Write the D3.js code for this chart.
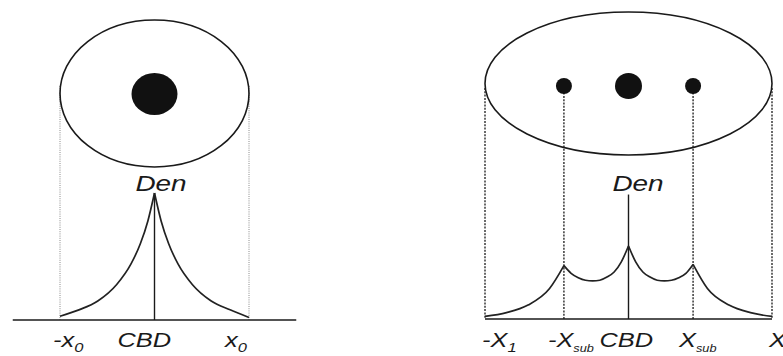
<!DOCTYPE html>
<html>
  <head>
    <title>Monocentric vs polycentric density</title>
    <script src="https://cdn.jsdelivr.net/npm/d3@7"></script>
    <style type="text/css">
      body {
        margin: 0;
        background: #fff;
        overflow: hidden;
      }
      text {
        font-family: "Liberation Sans", Arial, Helvetica, sans-serif;
        font-style: italic;
        fill: #1a1a1a;
      }
      .outline {
        fill: none;
        stroke: #1a1a1a;
        stroke-width: 1.6px;
      }
      .dot {
        fill: #111;
      }
      .density {
        fill: none;
        stroke: #222;
        stroke-width: 1.7px;
      }
      .axis-line {
        stroke: #1a1a1a;
        stroke-width: 1.5px;
      }
      .cbd-line {
        stroke: #1a1a1a;
        stroke-width: 1.4px;
      }
      .guide-light {
        stroke: #8a8a8a;
        stroke-width: 1px;
        stroke-dasharray: 1,1.2;
      }
      .guide-dark {
        stroke: #1a1a1a;
        stroke-width: 1.3px;
        stroke-dasharray: 2,1.3;
      }
    </style>
  </head>
<body>
  <div id="chart"></div>
  <script type="text/javascript">
    // distance from CBD in units of the city edge, density relative to left peak
    var monoDist = [-1, -0.8, -0.6, -0.4, -0.25, -0.15, -0.07, 0, 0.07, 0.15, 0.25, 0.4, 0.6, 0.8, 1];
    var monoDen  = [0.03, 0.08, 0.15, 0.28, 0.44, 0.6, 0.78, 1, 0.78, 0.6, 0.44, 0.28, 0.15, 0.08, 0.02];
    var monoCusps = [0];
    var monoCentres = [0];

    var polyDist = [-1, -0.85, -0.7, -0.55, -0.45, -0.4, -0.35, -0.3, -0.25, -0.2, -0.15, -0.1, -0.05, 0,
                    0.05, 0.1, 0.15, 0.2, 0.25, 0.3, 0.35, 0.4, 0.45, 0.55, 0.7, 0.85, 1];
    var polyDen  = [0.02, 0.05, 0.11, 0.24, 0.42, 0.36, 0.325, 0.305, 0.3, 0.305, 0.33, 0.37, 0.45, 0.575,
                    0.45, 0.37, 0.33, 0.305, 0.3, 0.305, 0.325, 0.36, 0.43, 0.24, 0.11, 0.05, 0.02];
    var polyCusps = [-0.45, 0, 0.45];
    var polyCentres = [-0.45, 0, 0.45];

    var monoLabels = [
      {at: -1, main: "-x", sub: "0"},
      {at: 0, main: "CBD", sub: ""},
      {at: 1, main: "x", sub: "0"}
    ];
    var polyLabels = [
      {at: -1, main: "-X", sub: "1"},
      {at: -0.45, main: "-X", sub: "sub"},
      {at: 0, main: "CBD", sub: ""},
      {at: 0.45, main: "X", sub: "sub"},
      {at: 1, main: "X", sub: ""}
    ];

    var width = 783, height = 356;
    var svg = d3.select("#chart").append("svg")
      .attr("width", width)
      .attr("height", height);

    var stretch = 1.27;

    var y = d3.scaleLinear().domain([0, 1]).range([0, -127]);

    function drawPanel(cfg) {
      var x = d3.scaleLinear().domain([-1, 1]).range(cfg.xRange);
      var g = svg.append("g").attr("transform", "translate(0," + cfg.base + ")");
      var cx = x(0), rx = x(1) - x(0);

      // city outline
      svg.append("ellipse")
        .attr("class", "outline")
        .attr("cx", cx).attr("cy", cfg.cy)
        .attr("rx", rx).attr("ry", cfg.ry);

      // dotted guides from outline edges
      g.selectAll(".edge").data([-1, 1]).enter()
        .append("line")
        .attr("class", cfg.guide)
        .attr("x1", x).attr("x2", x)
        .attr("y1", cfg.edgeTop - cfg.base).attr("y2", 0);

      // guides from sub-centres
      g.selectAll(".subguide").data(cfg.centres.filter(function (c) { return c !== 0; })).enter()
        .append("line")
        .attr("class", cfg.guide)
        .attr("x1", x).attr("x2", x)
        .attr("y1", cfg.dotY - cfg.base).attr("y2", 0);

      // centres
      svg.selectAll(null).data(cfg.centres).enter()
        .append("ellipse")
        .attr("class", "dot")
        .attr("cx", x)
        .attr("cy", cfg.dotY)
        .attr("rx", function (c) { return c === 0 ? cfg.mainR[0] : cfg.subR; })
        .attr("ry", function (c) { return c === 0 ? cfg.mainR[1] : cfg.subR; });

      // base line
      g.append("line")
        .attr("class", "axis-line")
        .attr("x1", x(-cfg.baseExt)).attr("x2", x(cfg.baseExt))
        .attr("y1", 0).attr("y2", 0);

      // CBD line
      g.append("line")
        .attr("class", "cbd-line")
        .attr("x1", x(0)).attr("x2", x(0))
        .attr("y1", y(cfg.cbdTop)).attr("y2", 0);

      // density curve, drawn piecewise so the centres stay sharp
      var pts = cfg.dist.map(function (d, i) { return [d, cfg.den[i]]; });
      var breaks = [-1].concat(cfg.cusps).concat([1]);
      var line = d3.line()
        .x(function (p) { return x(p[0]); })
        .y(function (p) { return y(p[1]); })
        .curve(d3.curveMonotoneX);
      for (var i = 0; i < breaks.length - 1; i++) {
        var seg = pts.filter(function (p) { return p[0] >= breaks[i] && p[0] <= breaks[i + 1]; });
        g.append("path").attr("class", "density").attr("d", line(seg));
      }

      // Den label
      g.append("text")
        .attr("transform", "translate(" + (x(0) + cfg.denDx) + "," + (191 - cfg.base) + ") scale(" + stretch + ",1)")
        .attr("text-anchor", "middle")
        .style("font-size", "22px")
        .text("Den");

      // axis labels
      var lab = g.selectAll(".lab").data(cfg.labels).enter()
        .append("text")
        .attr("transform", function (d, i) {
          return "translate(" + (x(d.at) + cfg.labelDx[i]) + "," + (347 - cfg.base) + ") scale(" + stretch + ",1)";
        })
        .attr("text-anchor", "start");
      lab.append("tspan")
        .style("font-size", function (d) { return d.main === "CBD" ? "20px" : cfg.varSize; })
        .text(function (d) { return d.main; });
      lab.append("tspan")
        .attr("dy", 5)
        .style("font-size", function (d) { return d.sub.length > 1 ? "10px" : "13px"; })
        .text(function (d) { return d.sub; });
    }

    drawPanel({
      xRange: [60, 249], base: 320, cy: 93.5, ry: 73.5, edgeTop: 86, dotY: 94,
      mainR: [23, 21], subR: 8, baseExt: 1.5, cbdTop: 1, guide: "guide-light",
      dist: monoDist, den: monoDen, cusps: monoCusps, centres: monoCentres,
      denDx: 6.5, labels: monoLabels, labelDx: [-7, -37, -24], varSize: "20px"
    });

    drawPanel({
      xRange: [485, 772], base: 319, cy: 83.5, ry: 71.5, edgeTop: 88, dotY: 86,
      mainR: [13.5, 13], subR: 8, baseExt: 1, cbdTop: 0.98, guide: "guide-dark",
      dist: polyDist, den: polyDen, cusps: polyCusps, centres: polyCentres,
      denDx: 9.5, labels: polyLabels, labelDx: [-3, -16, -29, -14, -3], varSize: "20px"
    });
  </script>
</body>
</html>
